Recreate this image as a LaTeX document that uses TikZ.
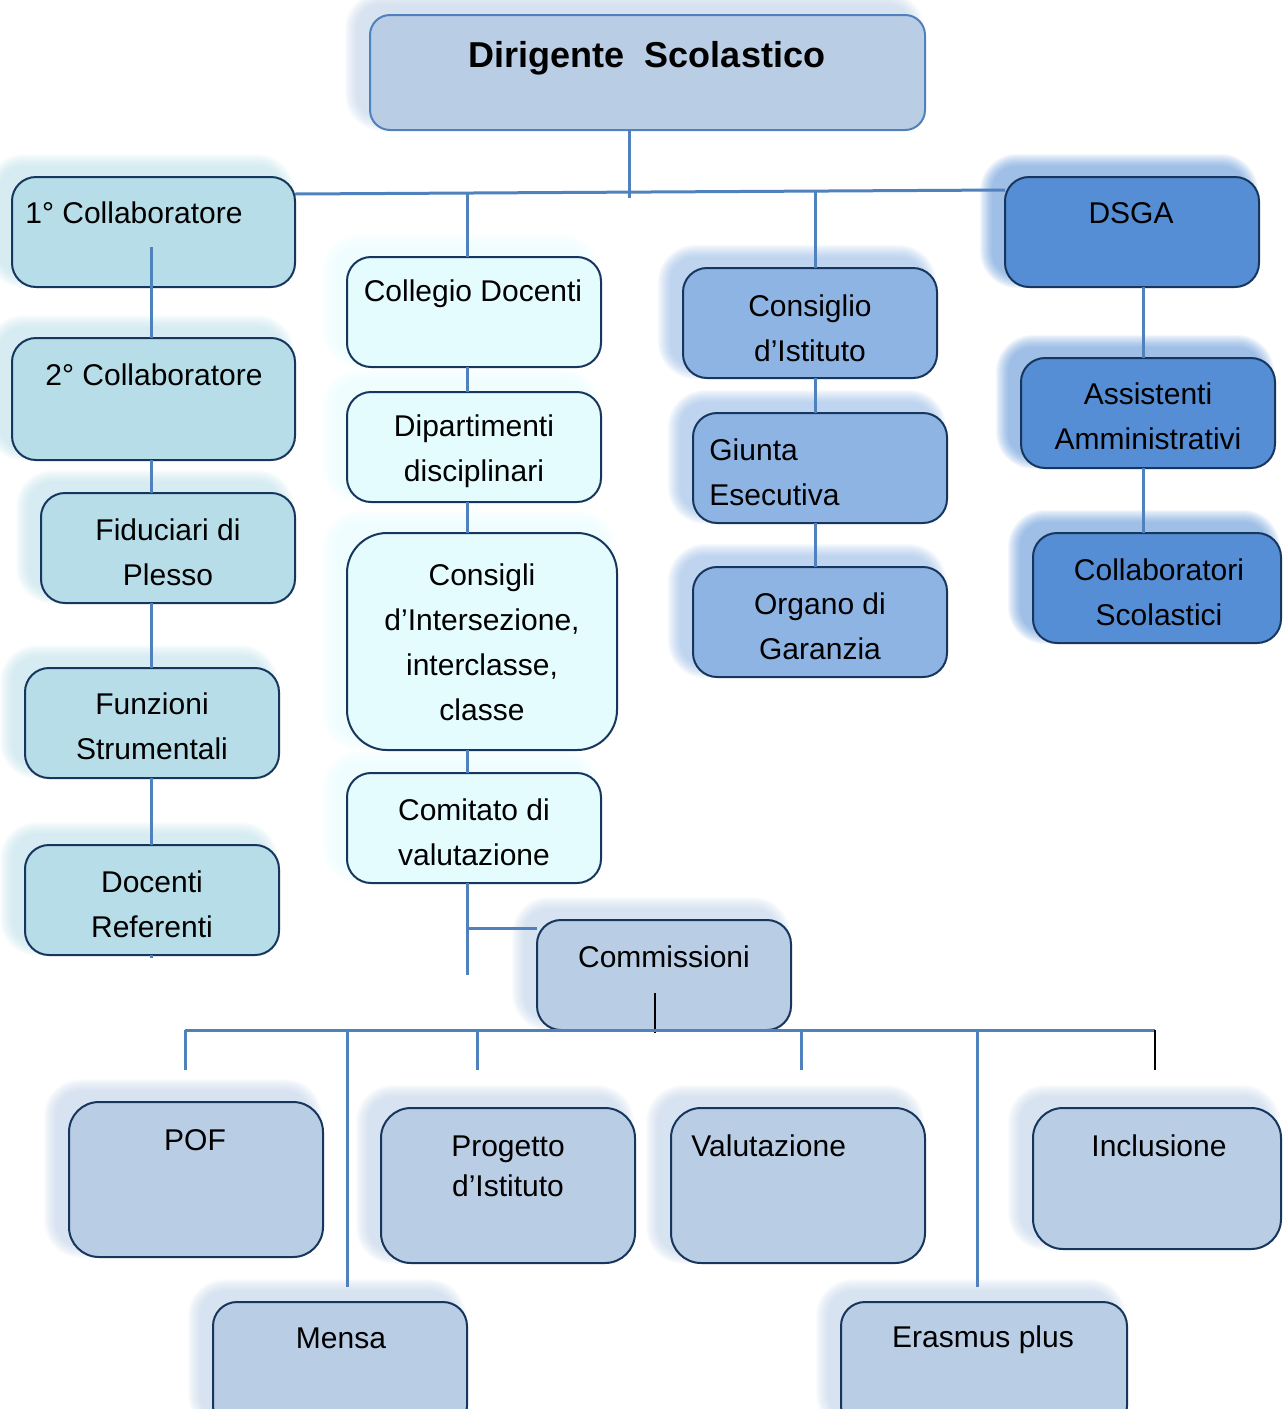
\documentclass[tikz,border=0pt]{standalone}
\usepackage{fontspec}
\setmainfont{Liberation Sans}
\usepackage{tikz}
\usetikzlibrary{calc}
\definecolor{LinkBlue}{RGB}{79,129,189}
\definecolor{BoxNavy}{RGB}{23,54,93}
\definecolor{HeadFill}{RGB}{185,205,229}
\definecolor{StaffFill}{RGB}{183,221,232}
\definecolor{DocFill}{RGB}{228,252,254}
\definecolor{BoardFill}{RGB}{142,180,227}
\definecolor{AdminFill}{RGB}{85,142,213}
\pgfdeclarelayer{glow}
\pgfsetlayers{glow,main}
\providecommand{\OrgBox}[7][]{%
  % #2 name, #3 #4 top left, #5 #6 bottom right, #7 fill
  \begin{pgfonlayer}{glow}
    \foreach \g in {0,...,11}
      \fill[#7, opacity=0.065, rounded corners=12pt+\g*0.6pt]
        (#3-13-\g*1.1, #4-11-\g*1.1) rectangle (#5-13+\g*1.1, #6-11+\g*1.1);
  \end{pgfonlayer}
  \node[orgbox, fill=#7, #1, minimum width={(#5-#3)*0.5pt}, minimum height={(#6-#4)*0.5pt}]
    (#2) at ({(#3+#5)/2},{(#4+#6)/2}) {};
}
\begin{document}
\begin{tikzpicture}[x=0.5pt, y=-0.5pt,
  orgbox/.style={draw=BoxNavy, line width=1pt, rounded corners=12pt, inner sep=0pt, outer sep=0pt},
  lbl/.style={font=\fontsize{15}{22.5}\selectfont, align=center, inner sep=0pt},
  conn/.style={draw=LinkBlue, line width=1.5pt}]

	\useasboundingbox (0,0) rectangle (1282,1409);

	% boxes
	\OrgBox[draw=LinkBlue, rounded corners=10pt]{ds}{370}{15}{925}{130}{HeadFill}
	\OrgBox{c1}{12}{177}{295}{287}{StaffFill}
	\OrgBox{c2}{12}{338}{295}{460}{StaffFill}
	\OrgBox{fid}{41}{493}{295}{603}{StaffFill}
	\OrgBox{fun}{25}{668}{279}{778}{StaffFill}
	\OrgBox{doc}{25}{845}{279}{955}{StaffFill}
	\OrgBox{cd}{347}{257}{601}{367}{DocFill}
	\OrgBox{dip}{347}{392}{601}{502}{DocFill}
	\OrgBox[rounded corners=20pt]{cons}{347}{533}{617}{750}{DocFill}
	\OrgBox{com}{347}{773}{601}{883}{DocFill}
	\OrgBox{comm}{537}{920}{791}{1030}{HeadFill}
	\OrgBox{ci}{683}{268}{937}{378}{BoardFill}
	\OrgBox{ge}{693}{413}{947}{523}{BoardFill}
	\OrgBox{og}{693}{567}{947}{677}{BoardFill}
	\OrgBox{dsga}{1005}{177}{1259}{287}{AdminFill}
	\OrgBox{aa}{1021}{358}{1275}{468}{AdminFill}
	\OrgBox{cs}{1033}{533}{1281}{643}{AdminFill}
	\OrgBox[rounded corners=15pt]{pof}{69}{1102}{323}{1257}{HeadFill}
	\OrgBox[rounded corners=15pt]{pi}{381}{1108}{635}{1263}{HeadFill}
	\OrgBox[rounded corners=15pt]{val}{671}{1108}{925}{1263}{HeadFill}
	\OrgBox[rounded corners=15pt]{inc}{1033}{1108}{1281}{1249}{HeadFill}
	\OrgBox{mensa}{213}{1302}{467}{1430}{HeadFill}
	\OrgBox{eras}{841}{1302}{1127}{1430}{HeadFill}

	% labels
	\node[lbl, font=\bfseries\fontsize{18}{22}\selectfont] (t-ds) at (647,58) {Dirigente~ Scolastico};
	\node[lbl, anchor=west] (t-c1) at (25,213) {1° Collaboratore};
	\node[lbl] (t-c2) at (154,375) {2° Collaboratore};
	\node[lbl] (t-fid) at (168,552) {Fiduciari di\\Plesso};
	\node[lbl] (t-fun) at (152,726) {Funzioni\\Strumentali};
	\node[lbl] (t-doc) at (152,904) {Docenti\\Referenti};
	\node[lbl] (t-cd) at (473,294) {Collegio Docenti};
	\node[lbl] (t-dip) at (474,451) {Dipartimenti\\disciplinari};
	\node[lbl] (t-cons) at (482,642) {Consigli\\d’Intersezione,\\interclasse,\\classe};
	\node[lbl] (t-com) at (474,832) {Comitato di\\valutazione};
	\node[lbl] (t-comm) at (664,957) {Commissioni};
	\node[lbl] (t-ci) at (810,328) {Consiglio\\d’Istituto};
	\node[lbl, align=left, anchor=west] (t-ge) at (709,472) {Giunta\\Esecutiva};
	\node[lbl] (t-og) at (820,626) {Organo di\\Garanzia};
	\node[lbl] (t-dsga) at (1131,213) {DSGA};
	\node[lbl] (t-aa) at (1148,416) {Assistenti\\Amministrativi};
	\node[lbl] (t-cs) at (1159,592) {Collaboratori\\Scolastici};
	\node[lbl] (t-pof) at (195,1140) {POF};
	\node[lbl, font=\fontsize{15}{20}\selectfont] (t-pi) at (508,1166) {Progetto\\d’Istituto};
	\node[lbl, anchor=west] (t-val) at (691,1146) {Valutazione};
	\node[lbl] (t-inc) at (1159,1146) {Inclusione};
	\node[lbl] (t-mensa) at (341,1338) {Mensa};
	\node[lbl] (t-eras) at (983,1340) {Erasmus plus};

	% connectors
	\coordinate (jds) at (629,198);
	\coordinate (jcd) at (467,194);
	\coordinate (jci) at (815,192);
	\coordinate (lx) at (151,247);
	\coordinate (lend) at (151,958);
	\coordinate (mend) at (467,975);
	\coordinate (jcomm) at (467,928);
	\coordinate (bl) at (185,1030);
	\coordinate (br) at (1155,1030);

	\draw[conn] (ds.south -| jds) -- (jds);
	\draw[conn] (c1.east |- 0,194) -- (dsga.west |- 0,190);
	\draw[conn] (jcd) -- (cd.north -| jcd);
	\draw[conn] (jci) -- (ci.north -| jci);

	\draw[conn] (lx) -- (c2.north -| lx);
	\draw[conn] (c2.south -| lx) -- (fid.north -| lx);
	\draw[conn] (fid.south -| lx) -- (fun.north -| lx);
	\draw[conn] (fun.south -| lx) -- (doc.north -| lx);
	\draw[conn] (doc.south -| lx) -- (lend);

	\draw[conn] (cd.south -| jcd) -- (dip.north -| jcd);
	\draw[conn] (dip.south -| jcd) -- (cons.north -| jcd);
	\draw[conn] (cons.south -| jcd) -- (com.north -| jcd);
	\draw[conn] (com.south -| jcd) -- (mend);
	\draw[conn] (jcomm) -- (comm.west |- jcomm);

	\draw[conn] (ci.south -| jci) -- (ge.north -| jci);
	\draw[conn] (ge.south -| jci) -- (og.north -| jci);

	\draw[conn] (dsga.south -| 1143,0) -- (aa.north -| 1143,0);
	\draw[conn] (aa.south -| 1143,0) -- (cs.north -| 1143,0);

	\draw[black, line width=0.6pt] ($(comm.south)+(-9,-37)$) -- ++(0,40);
	\draw[conn] (bl) -- (br);
	\foreach \dx/\dl in {185/40, 347/257, 477/40, 801/40, 977/257}
		\draw[conn] (\dx,1030) -- ++(0,\dl);
	\draw[black, line width=0.6pt] (br) -- ++(0,40);

\end{tikzpicture}
\end{document}
